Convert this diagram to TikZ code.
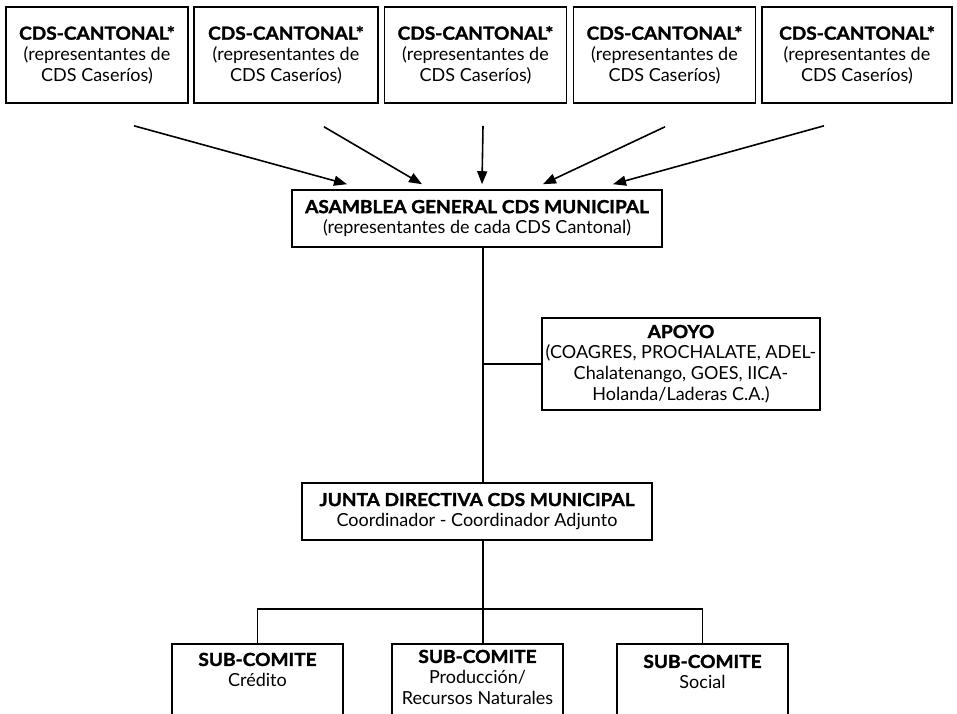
\documentclass[tikz,border=0pt]{standalone}
\usepackage{fontspec}
\setmainfont{Lato}
\newfontfamily\heavyfam{Lato}[BoldFeatures={FakeBold=1.6,FakeStretch=1.06}]
\usetikzlibrary{arrows.meta,calc}

\begin{document}
\begin{tikzpicture}[x=1pt,y=-1pt,
  box/.style={draw, line width=1.6pt, align=center, inner sep=2pt,
    font=\fontsize{18}{20.8}\selectfont},
  subbox/.style={draw, line width=1.6pt, anchor=north, inner sep=0pt,
    font=\fontsize{18}{21}\selectfont},
  link/.style={line width=1.6pt},
  feed/.style={link, -{Triangle[length=13pt,width=10pt]}}]
\useasboundingbox (0,0) rectangle (957,713);
\clip (0,0) rectangle (957,713);

\newcommand*\hd[1]{{\heavyfam\bfseries #1}}

% cantonal councils
\node[box, minimum width=182pt, minimum height=96pt] (c1) at (97,55)
  {\hd{CDS-CANTONAL*}\\(representantes de\\CDS Caseríos)};
\node[box, minimum width=184pt, minimum height=96pt] (c2) at (286,55)
  {\hd{CDS-CANTONAL*}\\(representantes de\\CDS Caseríos)};
\node[box, minimum width=182pt, minimum height=96pt] (c3) at (475.5,55)
  {\hd{CDS-CANTONAL*}\\(representantes de\\CDS Caseríos)};
\node[box, minimum width=182pt, minimum height=96pt] (c4) at (664.5,55)
  {\hd{CDS-CANTONAL*}\\(representantes de\\CDS Caseríos)};
\node[box, minimum width=190pt, minimum height=96pt] (c5) at (857,55)
  {\hd{CDS-CANTONAL*}\\(representantes de\\CDS Caseríos)};

% general assembly
\node[box, minimum width=370pt, minimum height=57pt] (asm) at (477,218.5)
  {\hd{ASAMBLEA GENERAL CDS MUNICIPAL}\\(representantes de cada CDS Cantonal)};

% support
\node[box, minimum width=278pt, minimum height=92pt] (apoyo) at (681,364)
  {\hd{APOYO}\\(COAGRES, PROCHALATE, ADEL-\\Chalatenango, GOES, IICA-\\Holanda/Laderas C.A.)};

% board
\node[box, minimum width=350pt, minimum height=57pt] (junta) at (477,511.5)
  {\hd{JUNTA DIRECTIVA CDS MUNICIPAL}\\Coordinador - Coordinador Adjunto};

% sub-committees
\node[subbox] (s1) at (257.5,643)
  {\parbox[t][90pt][t]{171pt}{\centering\vspace{9pt}\hd{SUB-COMITE}\\Crédito}};
\node[subbox] (s2) at (477.5,643)
  {\parbox[t][90pt][t]{171pt}{\centering\vspace{6pt}\hd{SUB-COMITE}\\Producción/\\Recursos Naturales}};
\node[subbox] (s3) at (702.5,643)
  {\parbox[t][90pt][t]{171pt}{\centering\vspace{11pt}\hd{SUB-COMITE}\\Social}};

% arrows from the cantonal councils
\coordinate (f1) at ($(c1.south)+(37,22)$);
\coordinate (f2) at ($(c2.south)+(38,23)$);
\coordinate (f3) at ($(c3.south)+(7.5,22)$);
\coordinate (f4) at ($(c4.south)+(0.5,23)$);
\coordinate (f5) at ($(c5.south)+(-33,22)$);
\coordinate (t1) at ($(asm.north)+(-130,-5)$);
\coordinate (t2) at ($(asm.north)+(-55,-5)$);
\coordinate (t3) at ($(asm.north)+(5,-5)$);
\coordinate (t4) at ($(asm.north)+(66,-5)$);
\coordinate (t5) at ($(asm.north)+(136,-5)$);
\foreach \i in {1,...,5} \draw[feed] (f\i) -- (t\i);

% main spine and branches
\coordinate (spine) at (483,0);
\coordinate (bus) at (483,609);
\draw[link] (asm.south -| spine) -- (junta.north -| spine);
\draw[link] (apoyo.west) -- (apoyo.west -| spine);
\draw[link] (junta.south -| spine) -- (s2.north -| spine);
\draw[link] (s1.north) |- (bus) -| (s3.north);
\end{tikzpicture}
\end{document}
